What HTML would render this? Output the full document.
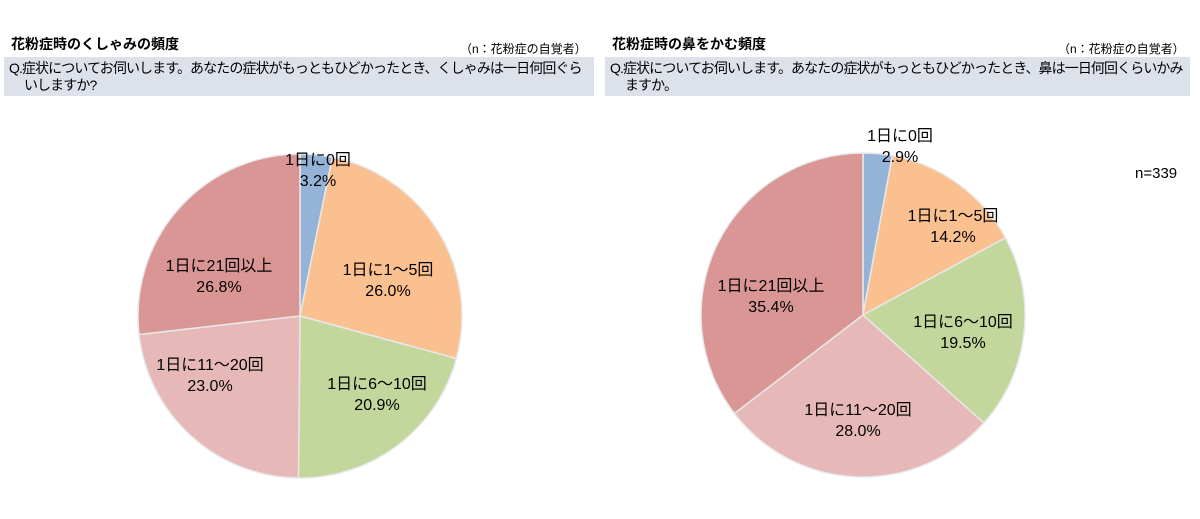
<!DOCTYPE html>
<html><head><meta charset="utf-8"><style>
body{margin:0;width:1200px;height:519px;background:#fff;position:relative;overflow:hidden;font-family:"Liberation Sans","Noto Sans CJK JP",sans-serif;color:#000}
.t{position:absolute;white-space:nowrap}
.box{position:absolute;background:#dde1ea;top:57px;height:39px}
.q{position:absolute;font-size:14px;line-height:17px;white-space:nowrap;letter-spacing:-0.9px}
.l{position:absolute;font-size:16px;line-height:21px;text-align:center;transform:translateX(-50%);white-space:nowrap}
</style></head><body>
<div class="t" style="left:11px;top:34px;font-size:14px;font-weight:bold">花粉症時のくしゃみの頻度</div>
<div class="t" style="left:460px;top:40px;font-size:12px">（n：花粉症の自覚者）</div>
<div class="box" style="left:4px;width:590px"></div>
<div class="q" style="left:9px;top:60px">Q.症状についてお伺いします。あなたの症状がもっともひどかったとき、くしゃみは一日何回ぐら<br>&nbsp;&nbsp;&nbsp;&nbsp;&nbsp;いしますか?</div>
<div class="t" style="left:612px;top:34px;font-size:14px;font-weight:bold">花粉症時の鼻をかむ頻度</div>
<div class="t" style="left:1058px;top:40px;font-size:12px">（n：花粉症の自覚者）</div>
<div class="box" style="left:605px;width:585px"></div>
<div class="q" style="left:610px;top:60px">Q.症状についてお伺いします。あなたの症状がもっともひどかったとき、鼻は一日何回くらいかみ<br>&nbsp;&nbsp;&nbsp;&nbsp;&nbsp;ますか。</div>
<div class="t" style="left:1135px;top:165px;font-size:15px">n=339</div>
<svg id="s" width="1200" height="519" style="position:absolute;left:0;top:0"></svg>
<div class="l" style="left:318px;top:150px">1日に0回<br>3.2%</div>
<div class="l" style="left:388px;top:260px">1日に1～5回<br>26.0%</div>
<div class="l" style="left:377px;top:374px">1日に6～10回<br>20.9%</div>
<div class="l" style="left:210px;top:355px">1日に11～20回<br>23.0%</div>
<div class="l" style="left:219px;top:256px">1日に21回以上<br>26.8%</div>
<div class="l" style="left:900px;top:126px">1日に0回<br>2.9%</div>
<div class="l" style="left:953px;top:206px">1日に1～5回<br>14.2%</div>
<div class="l" style="left:963px;top:312px">1日に6～10回<br>19.5%</div>
<div class="l" style="left:858px;top:400px">1日に11～20回<br>28.0%</div>
<div class="l" style="left:771px;top:276px">1日に21回以上<br>35.4%</div>
<script>
var cols=["#95b3d7","#fac090","#c3d69b","#e6b9b8","#d99694"];
function pie(cx,cy,r,v){var s=document.getElementById('s'),a=0,tot=v.reduce((x,y)=>x+y);
v.forEach(function(p,i){var b=a+p/tot*2*Math.PI;
var x1=cx+r*Math.sin(a),y1=cy-r*Math.cos(a),x2=cx+r*Math.sin(b),y2=cy-r*Math.cos(b);
var e=document.createElementNS("http://www.w3.org/2000/svg","path");
e.setAttribute("d","M"+cx+","+cy+"L"+x1+","+y1+"A"+r+","+r+" 0 "+(b-a>Math.PI?1:0)+" 1 "+x2+","+y2+"Z");
e.setAttribute("fill",cols[i]);e.setAttribute("stroke","#e8e8e8");e.setAttribute("stroke-width","1.5");s.appendChild(e);a=b;});}
pie(300,316,162,[3.2,26.0,20.9,23.0,26.8]);
pie(863,315,162,[2.9,14.2,19.5,28.0,35.4]);
</script>
</body></html>
